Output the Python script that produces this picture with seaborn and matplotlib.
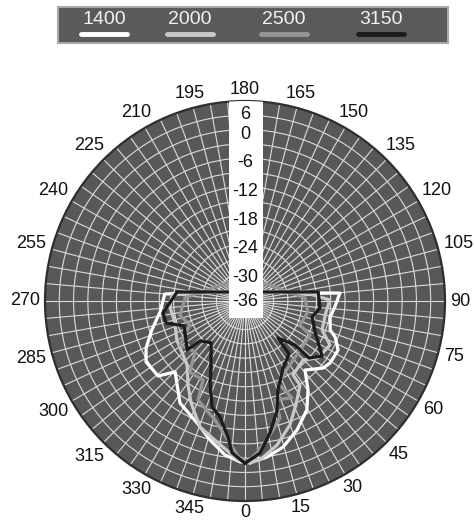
import numpy as np
import pandas as pd
import matplotlib
matplotlib.use("Agg")
import matplotlib.pyplot as plt
from matplotlib.patches import Rectangle
from matplotlib.lines import Line2D
import seaborn as sns

# Directivity levels (dB) at measured azimuths (degrees) for each frequency band
freqs = ["1400", "2000", "2500", "3150"]

angles_1400 = [1.8, 8.0, 14.6, 22.0, 29.6, 35.3, 41.0, 49.3, 53.9, 62.2, 68.2, 71.2,
               79.3, 86.2, 94.8, 96.4, 180.0, 265.0, 277.4, 287.3, 295.4, 301.6,
               310.8, 315.4, 327.5, 338.5, 345.9, 352.6, 358.2]
level_1400 = [-2.0, -2.9, -4.3, -6.8, -9.7, -13.1, -16.8, -14.4, -13.9, -13.9, -15.6, -17.1,
              -17.8, -17.1, -16.0, -21.0, -33.9, -19.1, -18.0, -15.5, -13.0, -11.6,
              -11.9, -15.1, -10.6, -8.5, -5.9, -3.4, -2.2]

angles_2000 = [1.8, 6.2, 12.5, 19.9, 26.1, 33.2, 33.0, 44.5, 52.0, 62.6, 69.4, 80.1,
               90.7, 96.1, 180.0, 265.3, 274.6, 286.7, 299.8, 317.8, 325.8, 332.1,
               340.3, 348.8, 357.5]
level_2000 = [-2.0, -2.8, -5.0, -8.3, -11.7, -14.9, -17.5, -18.6, -16.6, -15.9, -18.7, -18.9,
              -18.2, -22.3, -33.7, -20.6, -20.2, -20.6, -19.5, -17.9, -14.7, -11.8,
              -7.9, -5.8, -2.6]

angles_2500 = [0.7, 4.9, 10.6, 16.7, 16.9, 25.9, 21.9, 35.1, 48.3, 62.4, 66.4, 80.1,
               92.9, 122.6, 180.0, 237.4, 267.1, 282.2, 293.6, 304.1, 315.6, 322.2,
               332.0, 334.6, 345.9, 353.0, 357.4]
level_2500 = [-2.2, -4.2, -7.4, -10.4, -14.3, -13.4, -17.4, -19.6, -20.5, -20.6, -23.4, -22.6,
              -23.4, -29.8, -31.0, -29.8, -23.4, -22.0, -23.4, -19.5, -21.0, -17.1,
              -17.2, -13.0, -10.2, -6.6, -3.4]

angles_3150 = [0.0, 5.6, 10.7, 16.4, 20.3, 29.6, 39.7, 41.7, 48.7, 48.3, 54.5, 66.1,
               76.6, 84.7, 97.0, 180.0, 262.5, 278.3, 285.6, 292.3, 310.2, 311.6,
               321.0, 333.8, 336.9, 342.7, 347.8, 352.9, 355.1]
level_3150 = [-1.9, -3.9, -7.8, -12.1, -16.1, -19.8, -21.5, -25.6, -22.0, -18.0, -16.1, -19.9,
              -21.5, -20.2, -20.5, -34.1, -21.6, -18.6, -18.8, -22.2, -20.1, -23.4,
              -24.7, -19.8, -17.3, -12.7, -11.1, -7.2, -4.0]

radial_labels = [6, 0, -6, -12, -18, -24, -30, -36]
angle_labels = list(range(0, 360, 15))

line_colors = {"1400": "#ffffff", "2000": "#c9c9c9", "2500": "#959595", "3150": "#1c1c1c"}

series = {
    "1400": (angles_1400, level_1400),
    "2000": (angles_2000, level_2000),
    "2500": (angles_2500, level_2500),
    "3150": (angles_3150, level_3150),
}

# Long table, each curve closed back onto its first point
rows = []
for f in freqs:
    ang, lev = series[f]
    ang = list(ang) + [ang[0] + 360.0]
    lev = list(lev) + [lev[0]]
    for i, (a, v) in enumerate(zip(ang, lev)):
        rows.append({"theta": np.deg2rad(a), "level": v, "freq": f, "order": i})
df = pd.DataFrame(rows)

sns.set_theme(style="white")
plt.rcParams["font.family"] = ["Liberation Sans", "DejaVu Sans"]

W, H = 474, 524
fig = plt.figure(figsize=(W / 100, H / 100), dpi=100)
fig.patch.set_facecolor("white")

cx, cy, R = 245, 301, 200
ax = fig.add_axes([(cx - R) / W, (H - cy - R) / H, 2 * R / W, 2 * R / H], projection="polar")
ax.set_theta_zero_location("S")
ax.set_theta_direction(1)
ax.set_facecolor("#585858")
ax.set_ylim(-36, 6)
ax.set_yticks(np.arange(-33, 6, 3))
ax.set_yticklabels([])
ax.set_xticks(np.deg2rad(np.arange(0, 360, 5)))
ax.set_xticklabels([])
ax.tick_params(length=0)
ax.grid(True, color="#dcdcdc", linewidth=0.8)
ax.set_axisbelow(True)
ax.spines["polar"].set_color("#2e2e2e")
ax.spines["polar"].set_linewidth(1.6)

sns.lineplot(data=df, x="theta", y="level", hue="freq", hue_order=freqs,
             palette=line_colors, sort=False, estimator=None, units="freq",
             linewidth=2.3, legend=False, ax=ax, solid_joinstyle="round")
ax.set_xlabel("")
ax.set_ylabel("")

# White strip carrying the level scale
ax.add_patch(Rectangle((0.46, 0.4575), 0.085, 0.6, transform=ax.transAxes,
                       facecolor="white", edgecolor="none", zorder=5))
for v in radial_labels:
    if v == 6:
        pos = 3.2
    elif v == -36:
        pos = -36
    else:
        pos = v - 1.0
    ax.text(np.pi, pos, str(v), ha="center", va="center", fontsize=13,
            color="#111111", zorder=6)

# Azimuth labels around the rim
for a in angle_labels:
    t = np.deg2rad(a)
    s, c = np.sin(t), np.cos(t)
    w = 10 * len(str(a))
    h = 13
    d = 5 + abs(s) * w / 2 + abs(c) * h / 2
    ax.annotate(str(a), xy=(t, 6), xycoords="data", xytext=(s * d, -c * d),
                textcoords="offset pixels", ha="center", va="center",
                fontsize=13, color="#111111", annotation_clip=False)

# Frequency key across the top
fig.patches.append(Rectangle((58 / W, (H - 43) / H), 390 / W, 36 / H,
                             transform=fig.transFigure, facecolor="#5a5a5a",
                             edgecolor="#a8a8a8", linewidth=1.5))
key_x = [104, 190, 284, 381]
for f, x in zip(freqs, key_x):
    fig.text(x / W, (H - 20) / H, f, ha="center", va="center", fontsize=14, color="#f2f2f2")
    fig.lines.append(Line2D([(x - 23) / W, (x + 23) / W], [(H - 34) / H] * 2,
                            transform=fig.transFigure, color=line_colors[f],
                            linewidth=3.5, solid_capstyle="round"))

fig.savefig("out.png", dpi=100)
